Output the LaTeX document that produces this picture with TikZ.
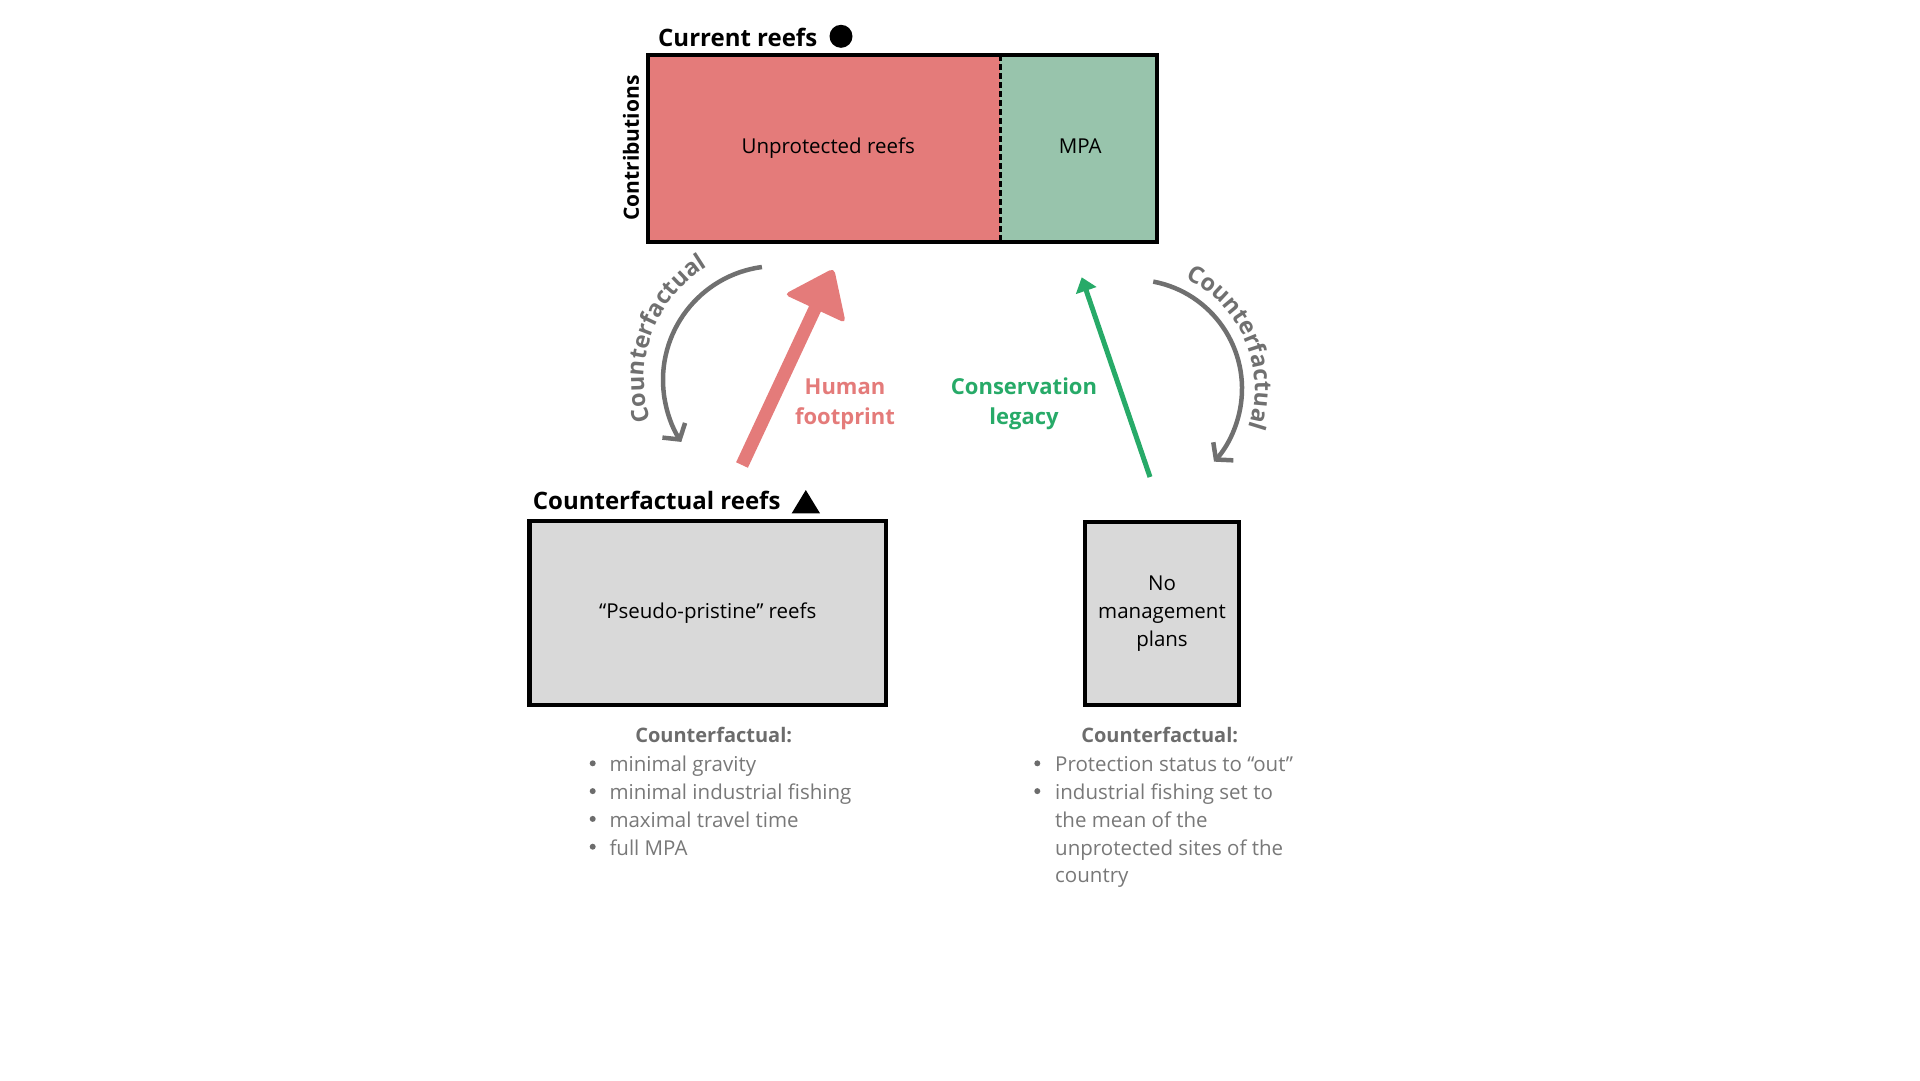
\documentclass[tikz,border=0pt]{standalone}
\usepackage{fontspec}
\setmainfont{Open Sans}
\usetikzlibrary{arrows.meta,calc,decorations.text}
\definecolor{redc}{RGB}{228,123,122}
\definecolor{greenc}{RGB}{152,196,172}
\definecolor{boxgray}{RGB}{217,217,217}
\definecolor{legacygreen}{RGB}{39,170,104}
\definecolor{arcgray}{RGB}{112,112,112}
\definecolor{listgray}{RGB}{120,120,120}
\definecolor{headgray}{RGB}{108,108,108}
\newcommand\regfont{\fontsize{20.5}{27.8}\selectfont}
\newcommand\cflabfont{\fontsize{23.5}{27}\selectfont\bfseries}
\begin{document}
\begin{tikzpicture}[x=1pt,y=1pt,
  reg/.style={font=\regfont, inner sep=0pt},
  ttl/.style={font=\fontsize{24}{28}\selectfont\bfseries, inner sep=0pt},
  lab/.style={font=\fontsize{22}{30}\selectfont\bfseries, inner sep=0pt},
  listtxt/.style={font=\regfont, text=listgray, inner sep=0pt, anchor=base west},
  listhead/.style={font=\fontsize{20}{27.8}\selectfont\bfseries, text=headgray, inner sep=0pt, anchor=base},
  bul/.style={fill=listgray!90!black},
  graybox/.style={reg, draw, line width=4.3pt, fill=boxgray},
  barpart/.style={reg, minimum height=186.3pt, anchor=north west, text height=15pt, text depth=5pt},
  arcline/.style={draw=arcgray, line width=4.5pt, -{Straight Barb[length=11pt,width=27pt]}},
  cflab/.style={decorate, decoration={text along path, text align=center, text color=arcgray, text={|\cflabfont|Counterfactual}}}
]
\useasboundingbox (0,0) rectangle (1920,-1080);

% ---------- Current reefs ----------
\node[barpart, fill=redc, minimum width=352pt] (unprot) at (648,-55) {\hspace*{8pt}Unprotected reefs};
\node[barpart, fill=greenc, minimum width=157pt] (mpa) at (1000,-55) {\hspace*{3pt}MPA};
\draw[line width=4pt] (unprot.north west) rectangle (mpa.south east);
\draw[line width=2.6pt, dash pattern=on 6pt off 3pt] (unprot.north east) -- (unprot.south east);
\node[ttl, anchor=base west] (curttl) at (658,-46) {Current reefs};
\fill (841,-36.3) circle (11.5pt);
\node[font=\fontsize{21}{24}\selectfont\bfseries, rotate=90, inner sep=0pt] (contrib) at (631,-148) {Contributions};

% ---------- left counterfactual arc ----------
\coordinate (lc) at (777,-380);
\coordinate (lArcStart) at ($(lc)+(97.6:114pt)$);
\draw[arcline] (lArcStart) arc[start angle=97.6, end angle=212.9, radius=114pt];
\path[cflab] ($(lc)+(229.5:133pt)$) arc[start angle=229.5, end angle=89.5, radius=133pt];

% ---------- right counterfactual arc ----------
\coordinate (rc) at (1133,-388.7);
\coordinate (rArcStart) at ($(rc)+(79.3:109pt)$);
\draw[arcline] (rArcStart) arc[start angle=79.3, end angle=-42, radius=109pt];
\path[cflab] ($(rc)+(93:122pt)$) arc[start angle=93, end angle=-47, radius=122pt];

% ---------- human footprint arrow ----------
\coordinate (hfTail) at (742,-465);
\coordinate (hfTip) at (834,-268);
\coordinate (hfBase) at ($(hfTip)!45pt!(hfTail)$);
\draw[redc, line width=13pt] (hfTail) -- ($(hfTip)!39pt!(hfTail)$);
\fill[redc, rounded corners=5pt] (hfBase) -- ($(hfBase)!34pt!90:(hfTip)$) -- (hfTip) -- ($(hfBase)!34pt!-90:(hfTip)$) -- cycle;
\node[lab, text=redc, anchor=base] (hf1) at (845,-394) {Human};
\node[lab, text=redc, anchor=base] (hf2) at (845,-424) {footprint};

% ---------- conservation legacy arrow ----------
\coordinate (glTail) at (1150,-477);
\coordinate (glTip) at (1081.7,-277.3);
\draw[legacygreen, line width=5pt, -{Triangle[length=14pt,width=21pt]}] (glTail) -- (glTip);
\node[lab, text=legacygreen, anchor=base] (cl1) at (1024,-394) {Conservation};
\node[lab, text=legacygreen, anchor=base] (cl2) at (1024,-424) {legacy};

% ---------- counterfactual reefs ----------
\node[ttl, anchor=base west] (cfttl) at (532.7,-509.3) {Counterfactual reefs};
\fill (791.7,-513.3) -- (820,-513.3) -- (805.8,-490) -- cycle;
\node[graybox, minimum width=356.5pt, minimum height=183.4pt] (cfbox) at (707.75,-613) {“Pseudo-pristine” reefs};
\node[graybox, minimum width=153.4pt, minimum height=182.7pt, align=center] (nmbox) at (1162,-613.35) {No\\management\\plans};

% ---------- left list ----------
\node[listhead] (lhead) at (713.7,-742.7) {Counterfactual:};
\node[listtxt] (la) at (609.3,-771.7) {minimal gravity};
\node[listtxt] (lb) at (609.3,-799.5) {minimal industrial fishing};
\node[listtxt] (lcc) at (609.3,-827.3) {maximal travel time};
\node[listtxt] (ld) at (609.3,-855.1) {full MPA};
\foreach \yy in {771.7,799.5,827.3,855.1} {\fill[bul] (592.7,-\yy+8.4) circle (3pt);}

% ---------- right list ----------
\node[listhead] (rhead) at (1159.7,-742.7) {Counterfactual:};
\node[listtxt] (ra) at (1055,-771.7) {Protection status to “out”};
\node[listtxt] (rb) at (1055,-799.5) {industrial fishing set to};
\node[listtxt] (rcc) at (1055,-827.3) {the mean of the};
\node[listtxt] (rd) at (1055,-855.1) {unprotected sites of the};
\node[listtxt] (re) at (1055,-882.9) {country};
\foreach \yy in {771.7,799.5} {\fill[bul] (1037.3,-\yy+8.4) circle (3pt);}
\end{tikzpicture}
\end{document}
